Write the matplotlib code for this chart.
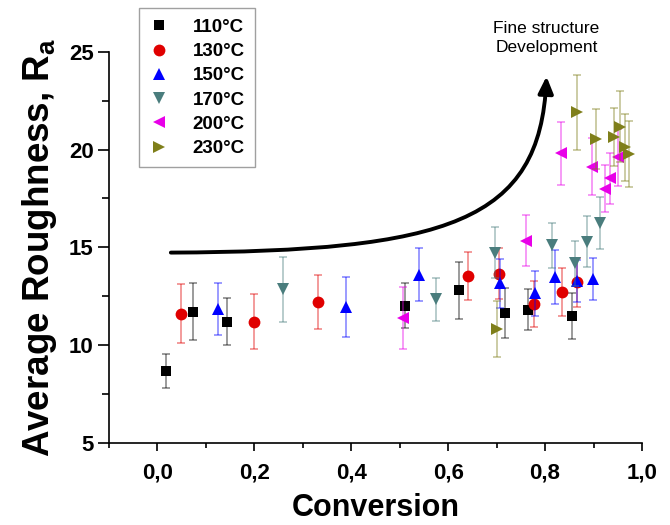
import numpy as np
import matplotlib
matplotlib.use('Agg')
from matplotlib import pyplot as plt
from matplotlib.path import Path
from matplotlib.patches import FancyArrowPatch

plt.rcParams['font.family'] = ['Liberation Sans', 'DejaVu Sans']
plt.rcParams['mathtext.fontset'] = 'custom'
plt.rcParams['mathtext.bf'] = 'Liberation Sans:bold'
plt.rcParams['mathtext.rm'] = 'Liberation Sans'

################################################################################
# Data #
labels = ['110°C', '130°C', '150°C', '170°C', '200°C', '230°C']

x_110 = [0.017, 0.074, 0.144, 0.511, 0.622, 0.717, 0.765, 0.855]
y_110 = [8.67, 11.71, 11.2, 12.02, 12.8, 11.62, 11.81, 11.5]
e_110 = [0.85, 1.46, 1.2, 1.15, 1.46, 1.28, 1.05, 1.18]

x_130 = [0.048, 0.199, 0.331, 0.641, 0.705, 0.778, 0.834, 0.865]
y_130 = [11.6, 11.2, 12.2, 13.52, 13.64, 12.1, 12.7, 13.2]
e_130 = [1.5, 1.4, 1.37, 1.24, 1.3, 1.2, 1.22, 1.26]

x_150 = [0.125, 0.389, 0.540, 0.707, 0.780, 0.821, 0.866, 0.899]
y_150 = [11.83, 11.93, 13.59, 13.16, 12.65, 13.47, 13.28, 13.37]
e_150 = [1.33, 1.53, 1.35, 1.26, 1.15, 1.37, 1.06, 1.08]

x_170 = [0.259, 0.576, 0.696, 0.814, 0.861, 0.887, 0.914]
y_170 = [12.85, 12.34, 14.72, 15.1, 14.19, 15.29, 16.23]
e_170 = [1.65, 1.1, 1.3, 1.15, 1.15, 1.3, 1.33]

x_200 = [0.506, 0.760, 0.832, 0.896, 0.923, 0.933, 0.951]
y_200 = [11.39, 15.33, 19.82, 19.13, 18.0, 18.53, 19.6]
e_200 = [1.6, 1.3, 1.62, 1.47, 1.2, 1.3, 1.48]

x_230 = [0.701, 0.865, 0.906, 0.942, 0.955, 0.964, 0.973]
y_230 = [10.8, 21.92, 20.53, 20.64, 21.18, 20.12, 19.78]
e_230 = [1.43, 1.92, 1.54, 1.5, 1.8, 1.7, 1.7]

x_ticks = [0.0, 0.2, 0.4, 0.6, 0.8, 1.0]
x_tick_labels = ['0,0', '0,2', '0,4', '0,6', '0,8', '1,0']
y_ticks = [5, 10, 15, 20, 25]

# arrow (annotation) #
arrow_pts = [(0.028, 14.73), (0.60, 14.80), (0.79, 16.3), (0.803, 23.75)]

################################################################################
series = [
    (x_110, y_110, e_110, 's', '#000000', 7.5),
    (x_130, y_130, e_130, 'o', '#e00000', 8.5),
    (x_150, y_150, e_150, '^', '#0000ff', 9),
    (x_170, y_170, e_170, 'v', '#4a7d7d', 9),
    (x_200, y_200, e_200, '<', '#e800e8', 9),
    (x_230, y_230, e_230, '>', '#7f7f1a', 9),
]

fig = plt.figure(figsize=(6.7, 5.25), dpi=100)
ax = fig.add_axes([0.1624, 0.1568, 0.9582 - 0.1624, 0.901 - 0.1568])

for (xs, ys, es, mk, col, ms), lab in zip(series, labels):
    rgba = matplotlib.colors.to_rgba(col, 0.5)
    ax.errorbar(xs, ys, yerr=es, fmt='none', ecolor=rgba, elinewidth=1.1,
                capsize=3.2, capthick=1.1)
    ax.plot(xs, ys, linestyle='none', marker=mk, color=col, markersize=ms,
            markeredgewidth=0, label=lab)

# Arrow #
path = Path(arrow_pts, [Path.MOVETO, Path.CURVE4, Path.CURVE4, Path.CURVE4])
arrow = FancyArrowPatch(path=path, arrowstyle='-|>,head_length=10,head_width=4.5',
                        color='black', lw=2.8, mutation_scale=1)
ax.add_patch(arrow)
ax.text(0.803, 24.85, 'Fine structure\nDevelopment', ha='center', va='bottom',
        fontsize=12.5, linespacing=1.3, clip_on=False)

# Axes #
ax.set_xlim(-0.1, 1.0)
ax.set_ylim(5, 25)
ax.set_xticks(x_ticks)
ax.set_xticklabels(x_tick_labels)
ax.set_xticks(np.arange(-0.1, 1.01, 0.1), minor=True)
ax.set_yticks(y_ticks)
ax.set_yticks(np.arange(5, 25.1, 2.5), minor=True)
for s in ['top', 'right']:
    ax.spines[s].set_visible(False)
for s in ['left', 'bottom']:
    ax.spines[s].set_linewidth(1.2)
ax.tick_params(axis='both', which='major', labelsize=16, width=1.2)
ax.tick_params(axis='x', which='major', length=6, pad=8)
ax.tick_params(axis='y', which='major', length=8, pad=3)
ax.tick_params(axis='x', which='minor', length=3.5, width=1.2)
ax.tick_params(axis='y', which='minor', length=5, width=1.2)
for t in ax.get_xticklabels() + ax.get_yticklabels():
    t.set_fontweight('bold')

ax.set_xlabel('Conversion', fontsize=22, fontweight='bold', labelpad=7)
ax.set_ylabel(r'Average Roughness, R$_\mathbf{a}$', fontsize=26.5,
              fontweight='bold', labelpad=7)

leg = fig.legend(loc='upper left', bbox_to_anchor=(0.2075, 0.984),
                 prop={'weight': 'bold', 'size': 13.5}, frameon=True,
                 fancybox=False, handlelength=1.0, handletextpad=1.3,
                 labelspacing=0.38, borderpad=0.55, borderaxespad=0)
leg.get_frame().set_edgecolor('#888888')
leg.get_frame().set_linewidth(1.0)

fig.savefig('out.png', dpi=100)
